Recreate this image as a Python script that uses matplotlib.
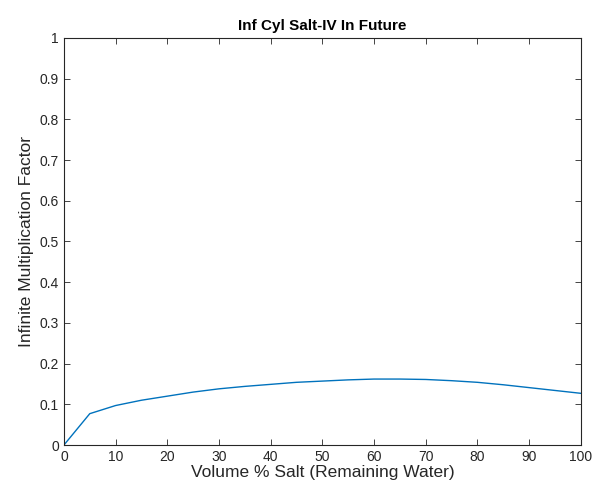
import numpy as np
import matplotlib
matplotlib.use("Agg")
import matplotlib.pyplot as plt

plt.rcParams['font.family'] = ['Liberation Sans', 'DejaVu Sans']

salt_pct = [0, 5, 10, 15, 20, 25, 30, 35, 40, 45, 50,
            55, 60, 65, 70, 75, 80, 85, 90, 95, 100]
k_inf = [0.0, 0.077, 0.097, 0.110, 0.120, 0.130, 0.138, 0.144, 0.149, 0.154, 0.157,
         0.160, 0.162, 0.162, 0.161, 0.158, 0.154, 0.148, 0.141, 0.134, 0.127]

xticks = np.arange(0, 101, 10)
yticks = np.round(np.arange(0, 1.01, 0.1), 1)
ytick_labels = ['0'] + [f'{v:g}' for v in yticks[1:]]

fig = plt.figure(figsize=(5.92, 4.92), dpi=100)
ax = fig.add_axes([0.108, 0.0955, 0.873, 0.8275])

ax.plot(salt_pct, k_inf, color='#0072BD', linewidth=1.0)

ax.set_xlim(0, 100)
ax.set_ylim(0, 1)
ax.set_xticks(xticks)
ax.set_yticks(yticks)
ax.set_yticklabels(ytick_labels)
ax.tick_params(direction='in', top=True, right=True, labelsize=10, length=4,
               width=0.6, colors='#262626')
for s in ax.spines.values():
    s.set_linewidth(0.8)
    s.set_color('#262626')

ax.set_xlabel('Volume % Salt (Remaining Water)', fontsize=12.5, color='#262626', labelpad=1)
ax.set_ylabel('Infinite Multiplication Factor', fontsize=12.5, color='#262626', labelpad=4)
ax.set_title('Inf Cyl Salt-IV In Future', fontsize=11, fontweight='bold', color='#000000', pad=6)

fig.savefig('out.png', dpi=100)
